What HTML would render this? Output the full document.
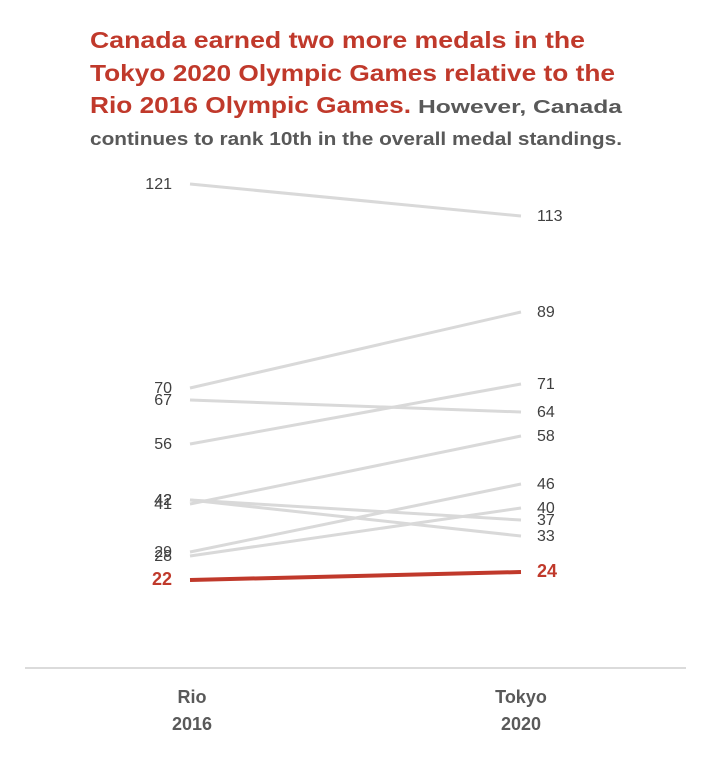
<!DOCTYPE html>
<html><head><meta charset="utf-8"><style>
html,body{margin:0;padding:0;background:#fff;}
svg{display:block;font-family:"Liberation Sans",Arial,sans-serif;}
</style></head><body>
<svg id="chart" width="724" height="764" viewBox="0 0 724 764">
<g font-weight="bold">
<text x="90" y="48" font-size="23" fill="#c0392b" textLength="495" lengthAdjust="spacingAndGlyphs">Canada earned two more medals in the</text>
<text x="90" y="81" font-size="23" fill="#c0392b" textLength="525" lengthAdjust="spacingAndGlyphs">Tokyo 2020 Olympic Games relative to the</text>
<text x="90" y="113" font-size="23" fill="#c0392b" textLength="321" lengthAdjust="spacingAndGlyphs">Rio 2016 Olympic Games.</text>
<text x="418" y="113" font-size="18" fill="#595959" textLength="204" lengthAdjust="spacingAndGlyphs">However, Canada</text>
<text x="90" y="145" font-size="18" fill="#595959" textLength="532" lengthAdjust="spacingAndGlyphs">continues to rank 10th in the overall medal standings.</text>
</g>
<line x1="25" y1="668" x2="686" y2="668" stroke="#cfcfcf" stroke-width="1.5"/>
<g font-size="18" font-weight="bold" fill="#595959" text-anchor="middle">
<text x="192" y="703"><tspan x="192">Rio</tspan><tspan x="192" dy="27">2016</tspan></text>
<text x="521" y="703"><tspan x="521">Tokyo</tspan><tspan x="521" dy="27">2020</tspan></text>
</g>
<g id="marks"></g>
</svg>
<script>
const countries = ["USA","China","Great Britain","Russia","Germany","France","Japan","Australia","Italy","Canada"];
const rio2016 = [121,70,67,56,42,42,41,29,28,22];
const tokyo2020 = [113,89,64,71,37,33,58,46,40,24];
const highlight = "Canada";
const xRio = 190, xTokyo = 521;
function y(v){ return 668 - 4*v; }
const g = document.getElementById('marks');
const NS = "http://www.w3.org/2000/svg";
const order = countries.map((c,i)=>i).sort((a,b)=>(countries[a]===highlight)-(countries[b]===highlight));
order.forEach(i=>{
  const hi = countries[i]===highlight;
  const l = document.createElementNS(NS,'line');
  l.setAttribute('x1',xRio); l.setAttribute('y1',y(rio2016[i]));
  l.setAttribute('x2',xTokyo); l.setAttribute('y2',y(tokyo2020[i]));
  l.setAttribute('stroke',hi?'#c0392b':'#d9d9d9');
  l.setAttribute('stroke-width',hi?4:3);
  
  
  g.appendChild(l);
  [[xRio-18,rio2016[i],'end','rio'],[xTokyo+16,tokyo2020[i],'start','tokyo']].forEach(([x,v,a,s])=>{
    const t = document.createElementNS(NS,'text');
    t.setAttribute('x',x); t.setAttribute('y',y(v)+5);
    t.setAttribute('text-anchor',a);
    t.setAttribute('font-size',hi?18:16);
    if(hi) t.setAttribute('font-weight','bold');
    t.setAttribute('fill',hi?'#c0392b':'#404040');
    t.textContent = v;
    
    
    g.appendChild(t);
  });
});
</script>
</body></html>
